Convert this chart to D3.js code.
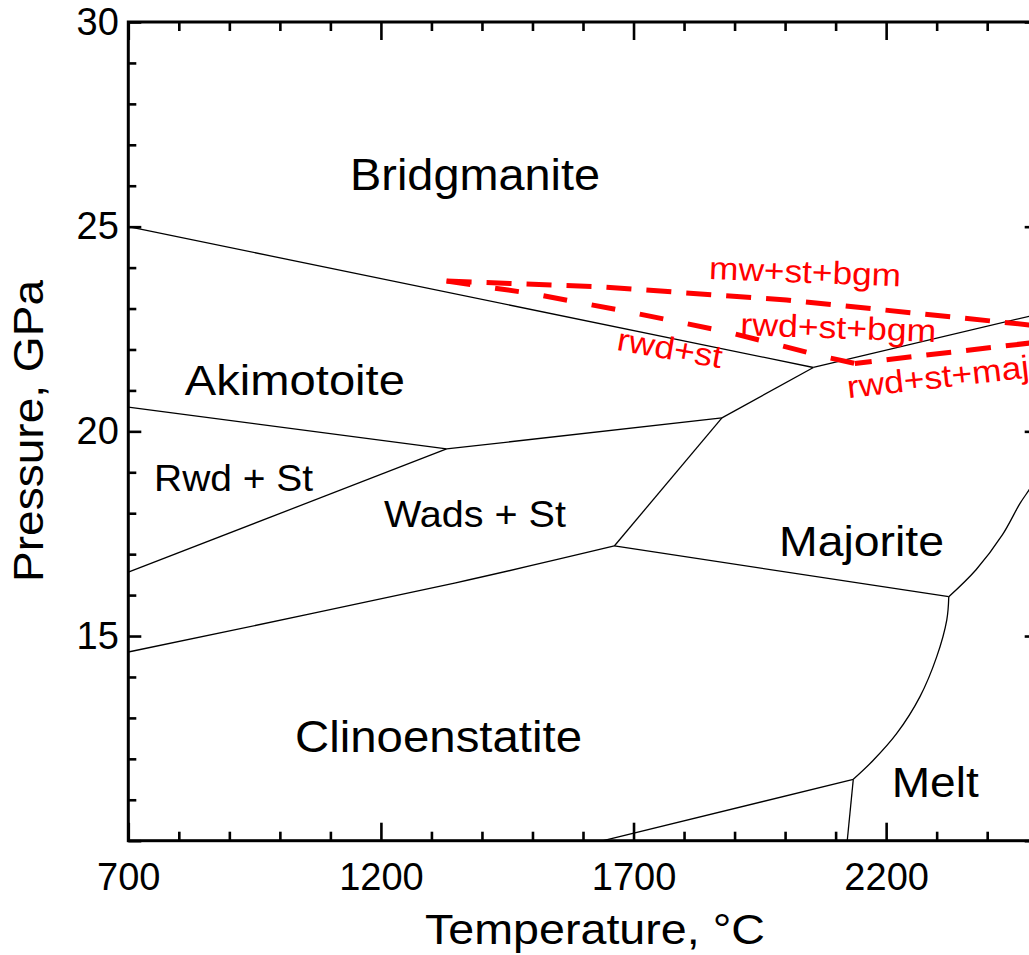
<!DOCTYPE html>
<html><head><meta charset="utf-8">
<script src="https://cdn.jsdelivr.net/npm/d3@7"></script>
<style>
html,body{margin:0;padding:0;background:#fff;overflow:hidden;}
svg{display:block;font-family:"Liberation Sans",Arial,Helvetica,sans-serif;}
</style></head><body>
<svg id="chart" width="1029" height="955"></svg>
<script>
// ---------------- data ----------------
const xDomain = [700, 2500];           // Temperature, °C
const yDomain = [10, 30];              // Pressure, GPa
const xMajorTicks = [700, 1200, 1700, 2200];
const yMajorTicks = [10, 15, 20, 25, 30];
const yTickLabels = ["", "15", "20", "25", "30"];

// phase boundaries [T (°C), P (GPa)]
const bgmAkiBoundary   = [[700, 25.0], [2056, 21.56]];
const bgmMajBoundary   = [[2056, 21.56], [2500, 22.86]];
const akiRwdBoundary   = [[700, 20.59], [1330, 19.57]];
const akiWadsBoundary  = [[1330, 19.57], [1875, 20.33]];
const akiMajBoundary   = [[1875, 20.33], [2056, 21.56]];
const rwdWadsBoundary  = [[700, 16.56], [1330, 19.57]];
const wadsCenBoundary  = [[700, 14.61], [1348, 16.30], [1662, 17.20]];
const wadsMajBoundary  = [[1662, 17.20], [1875, 20.33]];
const majCenBoundary   = [[1662, 17.20], [2324, 15.96]];
const majMeltBoundary  = [[2324, 15.96], [2378, 16.62], [2430, 17.47], [2465, 18.24], [2483, 18.57], [2500, 18.90]];
const cenMeltBoundary  = [[2324, 15.96], [2320, 15.39], [2300, 14.49], [2267, 13.52], [2221, 12.62], [2175, 11.97], [2135, 11.50]];
const lowMeltBoundary  = [[2135, 11.50], [2123, 10.0]];
const lowCenBoundary   = [[1640, 10.0], [2135, 11.50]];

// red dashed reaction boundaries
const mwStBgmLine  = [[1330, 23.67], [1634, 23.53], [2003, 23.21], [2483, 22.60], [2500, 22.58]];
const rwdStBgmLine = [[1330, 23.67], [1497, 23.37], [1690, 22.92], [1885, 22.43], [2079, 21.82], [2138, 21.66]];
const rwdStMajLine = [[2138, 21.66], [2500, 22.18]];

// phase field labels (left baseline, data coords)
const phaseNames = ["Bridgmanite", "Akimotoite", "Rwd + St", "Wads + St", "Majorite", "Clinoenstatite", "Melt"];
const phaseT     = [1139, 812, 751, 1206, 1988, 1030, 2211];
const phaseP     = [25.90, 20.90, 18.55, 17.66, 16.96, 12.16, 11.07];

// red assemblage labels
const redNames = ["mw+st+bgm", "rwd+st+bgm", "rwd+st", "rwd+st+maj"];
const redT     = [1849, 1911, 1665, 2125];
const redP     = [23.72, 22.35, 21.99, 20.81];
const redAngle = [2.2, 2.0, 10, -6.5];

// ---------------- styles ----------------
const phaseStyle = {
  "Bridgmanite": {size: 44, len: 250},
  "Akimotoite": {size: 43, len: 220},
  "Rwd + St": {size: 36, len: 159},
  "Wads + St": {size: 36, len: 182},
  "Majorite": {size: 43, len: 165},
  "Clinoenstatite": {size: 44, len: 287},
  "Melt": {size: 42, len: 87}
};
const redStyle = {"mw+st+bgm": 192, "rwd+st+bgm": 196, "rwd+st": 106, "rwd+st+maj": 183};
const RED = "#ff0000";

// ---------------- chart ----------------
const svg = d3.select("#chart");
const x = d3.scaleLinear().domain(xDomain).range([128.3, 1037.7]);
const y = d3.scaleLinear().domain(yDomain).range([840.7, 22]);
const xMinor = d3.range(xDomain[0], xDomain[1] + 1, 100).filter(v => !xMajorTicks.includes(v));
const yMinor = d3.range(yDomain[0], yDomain[1] + 1, 1).filter(v => !yMajorTicks.includes(v));

const line = d3.line().x(d => x(d[0])).y(d => y(d[1]));
const curve = d3.line().x(d => x(d[0])).y(d => y(d[1])).curve(d3.curveCatmullRom.alpha(0.5));

const gLines = svg.append("g").attr("fill", "none").attr("stroke", "#000").attr("stroke-width", 1.3);
[bgmAkiBoundary, bgmMajBoundary, akiRwdBoundary, akiWadsBoundary, akiMajBoundary, rwdWadsBoundary,
 wadsMajBoundary, majCenBoundary, lowMeltBoundary, lowCenBoundary].forEach(b => {
  gLines.append("path").attr("d", line(b));
});
[wadsCenBoundary, majMeltBoundary, cenMeltBoundary].forEach(b => {
  gLines.append("path").attr("d", curve(b));
});

// red dashed
const gRed = svg.append("g").attr("fill", "none").attr("stroke", RED).attr("stroke-width", 5);
gRed.append("path").attr("d", line(mwStBgmLine)).attr("stroke-dasharray", "25,15");
gRed.append("path").attr("d", line(rwdStBgmLine)).attr("stroke-dasharray", "24,25");
gRed.append("path").attr("d", line(rwdStMajLine)).attr("stroke-dasharray", "25,15").attr("stroke-dashoffset", 8);

// phase labels
phaseNames.forEach((n, i) => {
  const s = phaseStyle[n];
  svg.append("text").attr("x", x(phaseT[i])).attr("y", y(phaseP[i]))
    .attr("font-size", s.size).attr("textLength", s.len).attr("lengthAdjust", "spacingAndGlyphs")
    .attr("fill", "#000").text(n);
});
redNames.forEach((n, i) => {
  const px = x(redT[i]), py = y(redP[i]);
  svg.append("text").attr("x", px).attr("y", py)
    .attr("transform", `rotate(${redAngle[i]},${px},${py})`)
    .attr("font-size", 32).attr("textLength", redStyle[n]).attr("lengthAdjust", "spacingAndGlyphs")
    .attr("fill", RED).text(n);
});

// axes
function styleAxis(g, width) {
  g.select(".domain").remove();
  g.selectAll(".tick line").attr("stroke", "#000").attr("stroke-width", width);
  g.selectAll("text").attr("font-size", 38).attr("fill", "#000").attr("font-family", null);
}
const H = 840.7, TOP = 22, L = 128.3, R = 1037.7;
// bottom
svg.append("g").attr("transform", `translate(0,${H})`)
  .call(d3.axisBottom(x).tickValues(xMajorTicks).tickSize(-18).tickPadding(22.5).tickFormat(d3.format("d")))
  .call(g => styleAxis(g, 2.6));
svg.append("g").attr("transform", `translate(0,${H})`)
  .call(d3.axisBottom(x).tickValues(xMinor).tickSize(-9).tickFormat(""))
  .call(g => styleAxis(g, 2.6));
// top
svg.append("g").attr("transform", `translate(0,${TOP})`)
  .call(d3.axisTop(x).tickValues(xMajorTicks).tickSize(-18).tickFormat(""))
  .call(g => styleAxis(g, 2.6));
svg.append("g").attr("transform", `translate(0,${TOP})`)
  .call(d3.axisTop(x).tickValues(xMinor).tickSize(-9).tickFormat(""))
  .call(g => styleAxis(g, 2.6));
// left
svg.append("g").attr("transform", `translate(${L},0)`)
  .call(d3.axisLeft(y).tickValues(yMajorTicks).tickSize(-13).tickPadding(9.5).tickFormat((d, i) => yTickLabels[i]))
  .call(g => styleAxis(g, 2.6));
svg.append("g").attr("transform", `translate(${L},0)`)
  .call(d3.axisLeft(y).tickValues(yMinor).tickSize(-8).tickFormat(""))
  .call(g => styleAxis(g, 2.6));
// right
svg.append("g").attr("transform", `translate(${R},0)`)
  .call(d3.axisRight(y).tickValues(yMajorTicks).tickSize(-13).tickFormat(""))
  .call(g => styleAxis(g, 2.6));
svg.append("g").attr("transform", `translate(${R},0)`)
  .call(d3.axisRight(y).tickValues(yMinor).tickSize(-8).tickFormat(""))
  .call(g => styleAxis(g, 2.6));

// frame
svg.append("rect").attr("x", L).attr("y", TOP).attr("width", R - L).attr("height", H - TOP)
  .attr("fill", "none").attr("stroke", "#000").attr("stroke-width", 3);

// axis titles
svg.append("text").attr("x", 595).attr("y", 944).attr("text-anchor", "middle")
  .attr("font-size", 43).attr("textLength", 340).attr("lengthAdjust", "spacingAndGlyphs")
  .text("Temperature, °C");
svg.append("text").attr("transform", "translate(43,431) rotate(-90)").attr("text-anchor", "middle")
  .attr("font-size", 42).attr("textLength", 302).attr("lengthAdjust", "spacingAndGlyphs")
  .text("Pressure, GPa");
</script>
</body></html>
